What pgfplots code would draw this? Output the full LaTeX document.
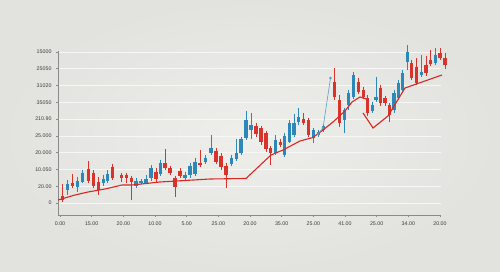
\documentclass[border=0pt]{standalone}
\usepackage{pgfplots}
\pgfplotsset{compat=1.18}
\usepackage{pgfplotstable}
\usepackage{fontspec}
\setmainfont{Liberation Sans}
\definecolor{cred}{HTML}{D8342C}
\definecolor{cblue}{HTML}{2B88B8}
\definecolor{cline}{HTML}{D42A26}
\definecolor{bgin}{HTML}{EEEEEB}
\definecolor{bgout}{HTML}{E2E2DE}
\definecolor{axgray}{HTML}{8A8A88}
\definecolor{txt}{HTML}{3A3A3A}

% candles: px = x position, hi / top / bot / lo = heights as picture rows
\pgfplotstableread{
px hi top bot lo
62.7 184 195.7 200 202
72.7 174 183.3 185.7 188
88.3 160.7 169 180.7 183
93.3 170 173 185.7 188
98.3 176.7 181.7 190 195
112.3 164 166.7 178.3 180
121.7 173 174.7 178.3 182
126.7 173 175 178.3 183
131.7 176 177.7 181.7 200
156 168 171.7 179.3 182
165 149 163.3 167.7 170
170 166 168.3 172.7 175
175 176 178.3 186.7 196.7
180 168 170.7 175.7 178
200 150 162.7 165 167
216 148 150.7 161.7 164
221 153 156 166.7 170
226 163 165.7 175 188.3
256 123 126 134 137
261 126 128.3 141.7 145
266 131 133.3 149.3 152
270.7 146 148.3 153.3 165
280.5 139 141.7 144.7 147
303.3 113.3 119 123.3 125
308.3 118 120 135 137
334.3 68 81.7 96.7 100
339.3 95 100 123.3 127
358.3 78 82 91.7 94
363.3 87 90 96.7 99
367.7 95 98.3 113.3 116
380.7 85 87.7 103.3 106
385 96 98.3 103.3 106
389.3 103 105 115 121.7
411.7 60 63.3 78.3 80
416.7 58 66.7 82.7 85
426 56 65 73.3 76
430.7 50 60 64.3 66
440 48 53.3 58.3 60
445 53 58.3 65 69
}\redtab

\pgfplotstableread{
px hi top bot lo
67.7 180 184 190 195
77.7 177 181 186.7 192
82.7 170 173 181.7 183
103.3 175 179.3 183.3 186
107.7 170 174.3 180.7 183
136 178 181 186 188
141 179 180.7 182.7 184
146 175 179.3 182.7 184
151 165 168.3 178.3 181
160.7 160 163.3 174 176
185 172 175 177.7 180
190 163 166 175 178
195 158 161.7 174 176
205.5 155 158.3 161.7 164
211 135 147.7 152.7 155
231.3 155 158.3 164.3 166
236.3 139.3 153.3 159 161
241 136.7 139.3 153.3 155
246 111 120 138.3 140
251 113.3 125 130 139.3
275.7 135 140 153.3 155
284.3 133 136 155 157
289.3 120 123.3 141.7 143
294 114 123.3 135 137
298.3 107.7 117.3 121.7 125
313.3 128 130 138.3 142.7
318.3 130 131.7 135 137
323.3 124 126 130 132
344.3 108 110 120 133.3
348.3 90 93.3 105 110
353.3 72 75 96.7 99
372.3 102 105 110.7 113
376 76.7 96.7 100 102
394 90 93.3 110 113
398.3 80 83.3 98.3 100
402.7 70 73.3 90 92
407.3 45 51.7 61.7 70
421.7 55 71.7 75 76.7
435.7 48 55 63.3 65
}\bluetab

\pgfplotstableread{
px py
58 200
75 195
88 192
105 189
122 185
132 185
160 182
210 179
246 178.5
271 155
283 150
300 141
313 137.5
323 130
333 122
345 111
352 102
360 97
366 99
}\trendA

\pgfplotstableread{
px py
363 113
373 128
388 116
405 88
442 75
}\trendB

\pgfplotsset{
  candle/.style 2 args={draw=none, mark=none, forget plot,
    error bars/.cd, y dir=minus, y explicit, error mark=none,
    error bar style={draw=#1, line width=#2, solid}},
}

\begin{document}
\begin{tikzpicture}
\shade[inner color=bgin, outer color=bgout] (0,0) rectangle (500pt,272pt);
\useasboundingbox (0,0) rectangle (500pt,272pt);
\begin{axis}[
  at={(58pt,57pt)}, anchor=south west,
  scale only axis, width=382.5pt, height=163.5pt,
  xmin=0, xmax=382.5, ymin=0, ymax=163.5,
  clip=false,
  axis x line*=bottom, axis y line*=left,
  axis line style={axgray, line width=0.5pt},
  tick style={axgray, line width=0.4pt},
  tick align=outside, major tick length=2pt,
  xtick={2,33.67,65.33,97,128.67,160.33,192,223.67,255.33,287,318.67,350.33,382},
  xticklabels={0.00,15.00,20.00,10.00,5.00,25.00,20.00,35.00,25.00,41.00,25.00,34.00,20.00},
  ytick={12,28.8,45.6,62.4,79.2,96,112.8,129.6,146.4,163.2},
  yticklabels={0,20.00,10.050,20.000,25.000,210.90,35050,31020,25050,15000},
  ticklabel style={font=\fontsize{5.3}{6}\selectfont, text=txt},
  xticklabel style={yshift=-1pt},
  yticklabel style={xshift=-1pt},
  ymajorgrids, grid style={black!3, line width=0.4pt},
]
% red wicks and bodies
\addplot[candle={cred}{0.7pt}]
  table[x expr=\thisrow{px}-58, y expr=215-\thisrow{hi}, y error minus expr=\thisrow{lo}-\thisrow{hi}] {\redtab};
\addplot[candle={cred}{3.2pt}]
  table[x expr=\thisrow{px}-58, y expr=215-\thisrow{top}, y error minus expr=\thisrow{bot}-\thisrow{top}] {\redtab};
% blue wicks and bodies
\addplot[candle={cblue}{0.7pt}]
  table[x expr=\thisrow{px}-58, y expr=215-\thisrow{hi}, y error minus expr=\thisrow{lo}-\thisrow{hi}] {\bluetab};
\addplot[candle={cblue}{3.2pt}]
  table[x expr=\thisrow{px}-58, y expr=215-\thisrow{top}, y error minus expr=\thisrow{bot}-\thisrow{top}] {\bluetab};
% trend lines
\addplot[cline, line width=1.1pt, mark=none] table[x expr=\thisrow{px}-58, y expr=215-\thisrow{py}] {\trendA};
\addplot[cline, line width=1.1pt, mark=none] table[x expr=\thisrow{px}-58, y expr=215-\thisrow{py}] {\trendB};
% blue spike line
\addplot[cblue!80, line width=0.6pt, mark=*, mark size=0.9pt, mark options={fill=black!65, draw=none}]
  coordinates {(260,81) (265,87) (272.5,137)};
\end{axis}
\end{tikzpicture}
\end{document}
